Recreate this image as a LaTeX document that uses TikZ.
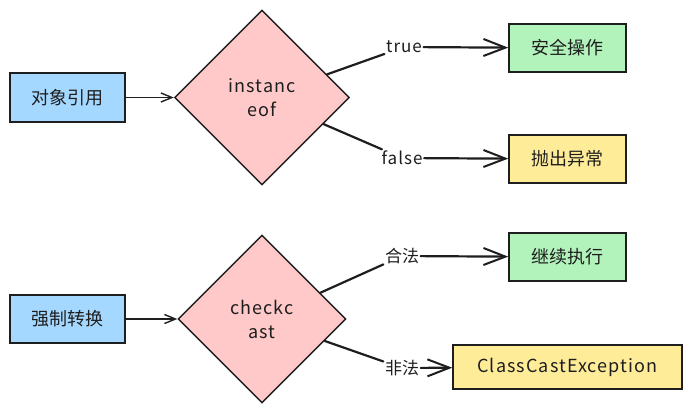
\documentclass[tikz,border=0pt]{standalone}
\usepackage{fontspec}
\setmainfont{Noto Sans CJK SC}
\newfontfamily\latinwide[LetterSpace=6]{Noto Sans CJK SC}
\usetikzlibrary{shapes.geometric,arrows.meta}
\definecolor{inkc}{HTML}{1E1E1E}
\definecolor{bluec}{HTML}{A5D8FF}
\definecolor{pinkc}{HTML}{FFC9C9}
\definecolor{greenc}{HTML}{B2F2BB}
\definecolor{yellowc}{HTML}{FFEC99}
\tikzset{
  box/.style={draw=inkc, line width=1.6pt, minimum width=117pt, minimum height=48pt,
    text=inkc, font=\fontsize{18}{21}\selectfont},
  check/.style={diamond, draw=inkc, line width=1.4pt, fill=pinkc, align=center,
    text=inkc, font=\latinwide\fontsize{18}{24}\selectfont, inner sep=0pt},
  lbl/.style={inner sep=1.5pt, text=inkc, font=\fontsize{17}{20}\selectfont},
  branch/.style={draw=inkc, line width=2.2pt, line cap=round},
  flow/.style={branch, -{Straight Barb[length=22pt,width=17pt,line width=2pt]}},
  feed/.style={draw=inkc, line width=1.6pt, -{Straight Barb[length=11pt,width=9pt,line width=1.4pt]}}
}
\begin{document}
\begin{tikzpicture}[x=1pt,y=-1pt]
    \useasboundingbox (0,0) rectangle (692,413);

    % upper part: instanceof
    \node [box, fill=bluec, minimum width=115pt, minimum height=49pt] (REF) at (67.5,97.5) {对象引用};
    \node [check, minimum width=175pt, minimum height=175pt] (INST) at (262,97.5) {instanc\\eof};
    \node [box, fill=greenc] (SAFE) at (567.5,48) {安全操作};
    \node [box, fill=yellowc] (THROW) at (567.5,159) {抛出异常};
    \node [lbl, font=\latinwide\fontsize{17}{20}\selectfont] (TRUE) at (404,47) {true};
    \node [lbl, font=\latinwide\fontsize{17}{20}\selectfont] (FALSE) at (402,158) {false};

    \draw [feed] (REF) -- (INST);
    \draw [branch] (INST) -- (TRUE);
    \draw [flow] (TRUE) -- (SAFE);
    \draw [branch] (INST) -- (FALSE);
    \draw [flow] (FALSE) -- (THROW);

    % lower part: checkcast
    \node [box, fill=bluec, minimum width=115pt] (CAST) at (67.5,319) {强制转换};
    \node [check, minimum width=168pt, minimum height=168pt] (CHK) at (262,319) {checkc\\ast};
    \node [box, fill=greenc] (GOON) at (567.5,257) {继续执行};
    \node [box, fill=yellowc, minimum width=229pt, minimum height=44pt,
      font=\latinwide\fontsize{18}{21}\selectfont] (CCE) at (567.5,367) {ClassCastException};
    \node [lbl] (LEGAL) at (402,256) {合法};
    \node [lbl] (ILLEGAL) at (402,368) {非法};

    \draw [feed] (CAST) -- (CHK);
    \draw [branch] (CHK) -- (LEGAL);
    \draw [flow] (LEGAL) -- (GOON);
    \draw [branch] (CHK) -- (ILLEGAL);
    \draw [flow] (ILLEGAL) -- (CCE);
\end{tikzpicture}
\end{document}
